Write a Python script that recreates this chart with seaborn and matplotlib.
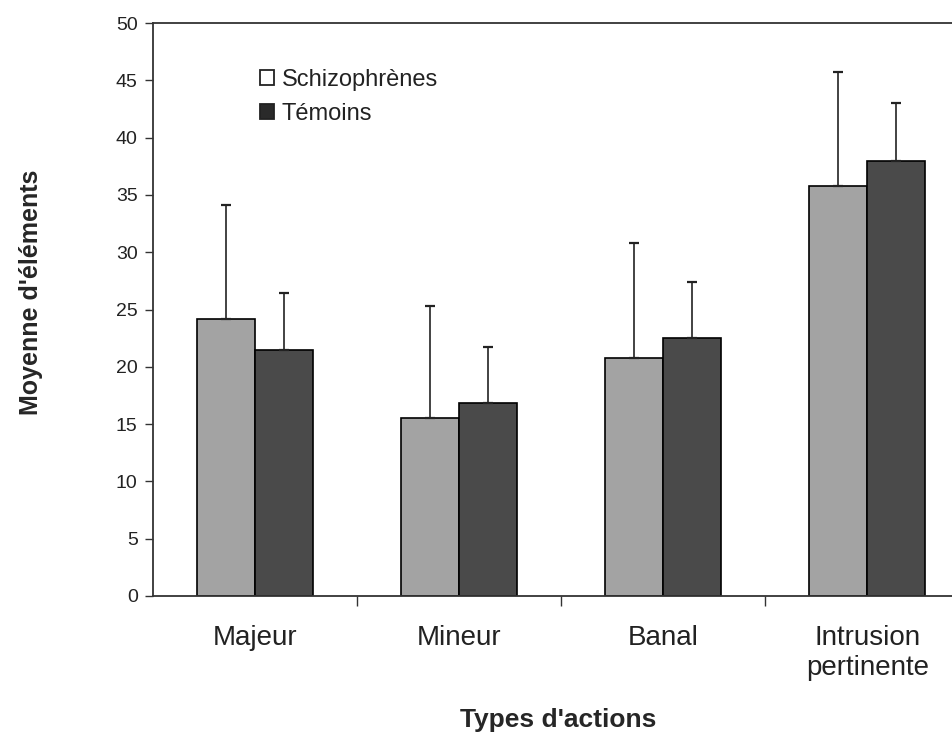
import pandas as pd
import matplotlib.pyplot as plt
import seaborn as sns
from matplotlib.patches import Patch

# valeurs
categories = ["Majeur", "Mineur", "Banal", "Intrusion\npertinente"]
groupes = ["Schizophrènes", "Témoins"]
moy_schizo = [24.2, 15.5, 20.8, 35.8]
moy_temoins = [21.5, 16.8, 22.5, 38.0]
et_schizo = [9.9, 9.8, 10.0, 9.9]
et_temoins = [4.9, 4.9, 4.9, 5.0]

couleurs = {"Schizophrènes": "#a3a3a3", "Témoins": "#4a4a4a"}


def construire_df():
    df = pd.DataFrame({
        "type": categories * 2,
        "groupe": [groupes[0]] * 4 + [groupes[1]] * 4,
        "moyenne": moy_schizo + moy_temoins,
        "et": et_schizo + et_temoins,
    })
    return df


def tracer(df):
    sns.set_style("white")
    plt.rcParams["font.family"] = ["Liberation Sans", "DejaVu Sans"]
    plt.rcParams["text.color"] = "#222222"

    fig = plt.figure(figsize=(9.53, 7.32), dpi=100)
    ax = fig.add_axes([153 / 953, 1 - 596 / 732, 1 - 153 / 953, (596 - 23) / 732])

    sns.barplot(data=df, x="type", y="moyenne", hue="groupe", palette=couleurs,
                width=0.57, edgecolor="black", linewidth=1.2, errorbar=None,
                legend=False, ax=ax)

    # barres d'erreur vers le haut seulement
    for cont, g in zip(ax.containers, groupes):
        sous = df[df["groupe"] == g]
        xs = [p.get_x() + p.get_width() / 2 for p in cont.patches]
        ax.errorbar(xs, sous["moyenne"], yerr=[[0] * len(xs), sous["et"]],
                    fmt="none", ecolor="#222222", elinewidth=1.2, capsize=3.5,
                    capthick=1.6, zorder=1)

    ax.set_ylim(0, 50)
    ax.set_xlim(-0.5, 3.42)
    ax.set_yticks(range(0, 51, 5))
    ax.tick_params(axis="y", which="major", direction="out", length=6, width=1,
                   labelsize=14, labelcolor="#222222", color="#333333", left=True, pad=5)
    ax.set_xticks(range(4), categories)
    ax.set_xticks([0.5, 1.5, 2.5], minor=True)
    ax.tick_params(axis="x", which="major", length=0, labelsize=20, pad=21,
                   labelcolor="#222222")
    ax.tick_params(axis="x", which="minor", direction="out", length=7, width=1,
                   bottom=True, color="#333333")
    for lab in ax.get_xticklabels():
        lab.set_linespacing(1.2)

    for cote in ["left", "top", "bottom"]:
        ax.spines[cote].set_visible(True)
        ax.spines[cote].set_color("#333333")
        ax.spines[cote].set_linewidth(1.3)
    ax.spines["right"].set_visible(False)

    ax.set_xlabel("Types d'actions", fontsize=19, fontweight="bold")
    ax.xaxis.label.set_va("baseline")
    ax.xaxis.set_label_coords(0.506, -0.229)
    ax.set_ylabel("Moyenne d'éléments", fontsize=18, fontweight="bold")
    ax.yaxis.label.set_va("center")
    ax.yaxis.set_label_coords(-0.153, 0.53)

    poignees = [Patch(facecolor="white", edgecolor="#222222", linewidth=1.3),
                Patch(facecolor="#2a2a2a", edgecolor="#222222", linewidth=1.3)]
    ax.legend(poignees, groupes, loc="upper left", bbox_to_anchor=(0.134, 0.92),
              frameon=False, fontsize=17, handlelength=0.6, handleheight=0.6,
              handletextpad=0.3, labelspacing=0.5, borderaxespad=0, borderpad=0)

    fig.savefig("out.png", dpi=100)


def main():
    df = construire_df()
    tracer(df)


if __name__ == "__main__":
    main()
